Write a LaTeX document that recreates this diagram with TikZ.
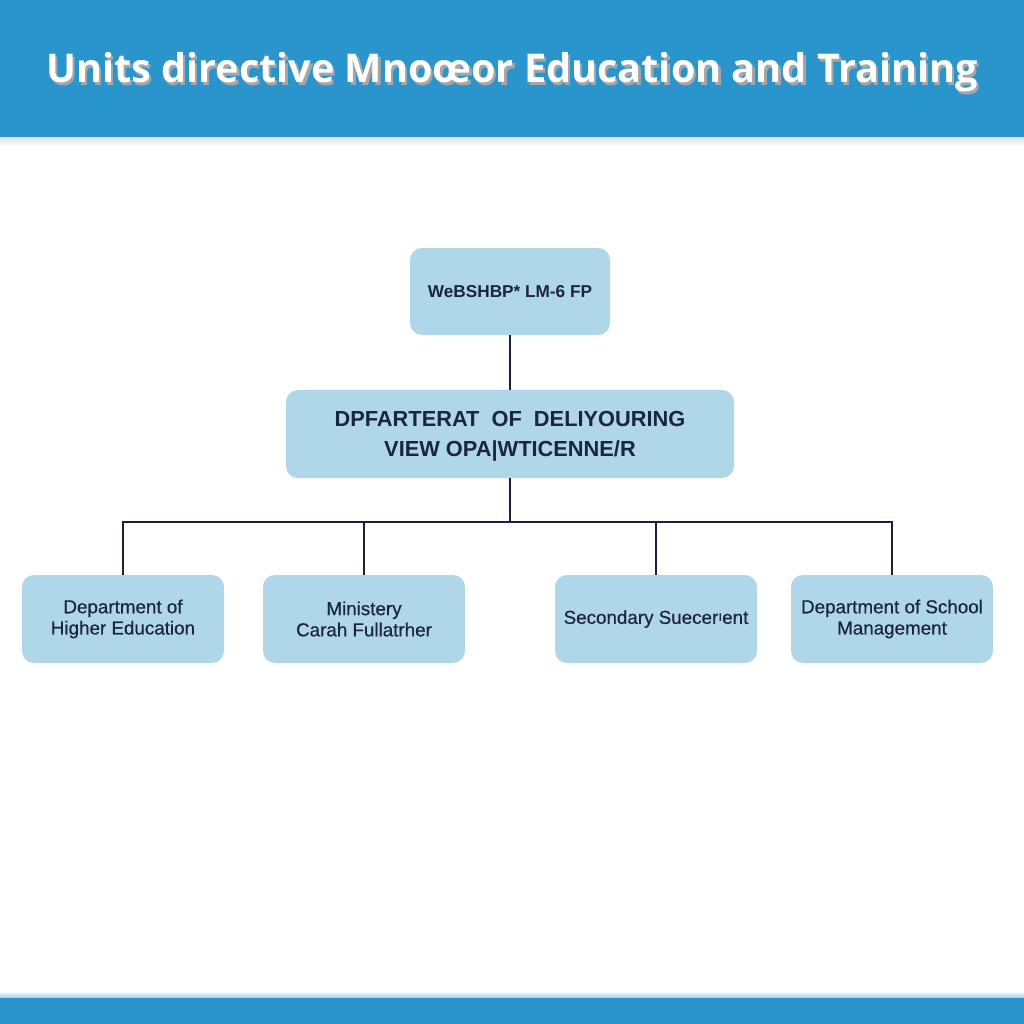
\documentclass[tikz,border=0pt]{standalone}
\usepackage{fontspec}
\setmainfont{Liberation Sans}
\newfontfamily\titlefont{Open Sans}
\newfontfamily\medfont[FakeBold=0.5]{Liberation Sans}
\definecolor{band}{HTML}{2A94CC}
\definecolor{boxfill}{HTML}{AFD7E9}
\definecolor{ink}{HTML}{1B2440}
\begin{document}
\begin{tikzpicture}[x=0.5pt,y=-0.5pt,
  orgbox/.style={draw=none,fill=boxfill,rounded corners=6pt,align=center,text=ink,inner sep=0pt},
  lowbox/.style={orgbox,minimum width=101pt,minimum height=44pt,font=\medfont\fontsize{9.4}{10.6}\selectfont},
  conn/.style={draw=ink!90!black,line width=1.2pt}]
\useasboundingbox (0,0) rectangle (1024,1024);
\fill[white] (0,0) rectangle (1024,1024);
% header band
\fill[band] (0,0) rectangle (1024,137);
\shade[top color=black!12,bottom color=white] (0,137) rectangle (1024,146);
\node[text=black!35,font=\titlefont\bfseries\fontsize{19.8}{24}\selectfont] (titleshadow) at (514.5,75) {Units directive Mnoœor Education and Training};
\node[text=white,font=\titlefont\bfseries\fontsize{19.8}{24}\selectfont] (title) at (512,72) {Units directive Mnoœor Education and Training};
% footer band
\fill[band] (0,997) rectangle (1024,1024);
\shade[top color=white,bottom color=band!40] (0,991) rectangle (1024,997);
% boxes
\node[orgbox,minimum width=100pt,minimum height=43.5pt,font=\fontsize{8.6}{11}\selectfont\bfseries] (top) at (510,291.5) {WeBSHBP* LM-6 FP};
\node[orgbox,minimum width=224pt,minimum height=44pt] (mid) at (510,434) {};
\node[align=center,text=ink,inner sep=0pt,font=\fontsize{10.9}{15}\selectfont\bfseries] (midtext) at (510,436) {DPFARTERAT\ \ OF\ \ DELIYOURING\\VIEW OPA|WTICENNE/R};
\node[lowbox] (b1) at (123,619) {Department of\\Higher Education};
\node[lowbox] (b2) at (364,619) {Ministery\\Carah Fullatrher};
\node[lowbox] (b3) at (656,619) {Secondary Suecer\raisebox{0.3ex}{\scriptsize ı}ent};
\node[lowbox] (b4) at (892,619) {Department of School\\Management};
% connectors
\coordinate (bus) at (510,522);
\draw[conn] (top.south) -- (mid.north);
\draw[conn] (mid.south) -- (bus);
\draw[conn] (b1.north) -- (b1.north |- bus) -- (b4.north |- bus) -- (b4.north);
\draw[conn] (b2.north) -- (b2.north |- bus);
\draw[conn] (b3.north) -- (b3.north |- bus);
\end{tikzpicture}
\end{document}
